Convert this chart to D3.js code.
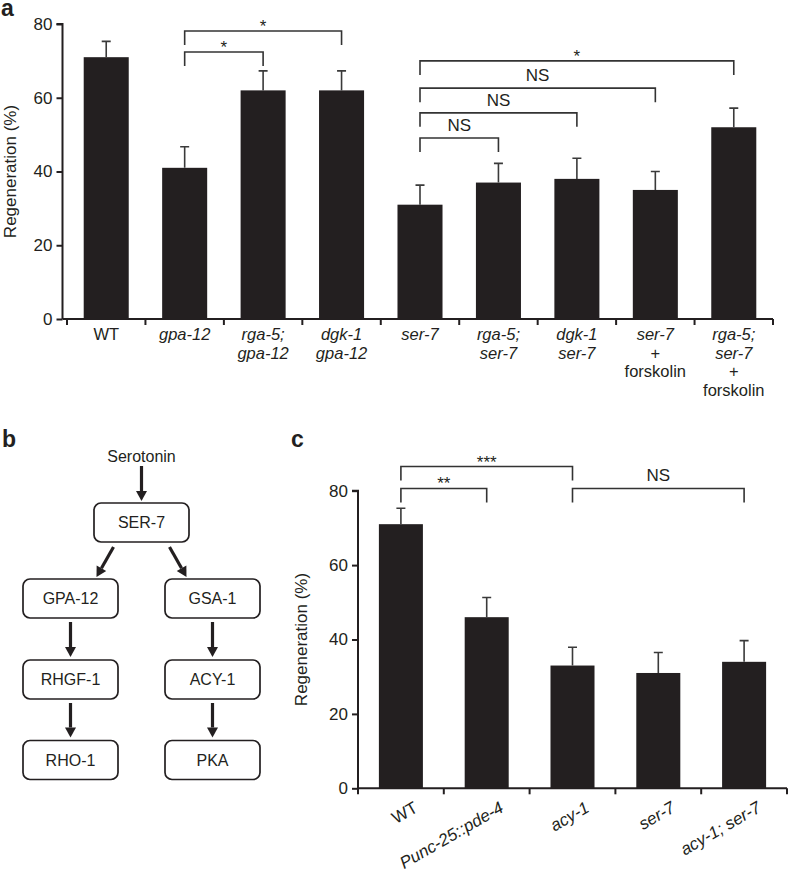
<!DOCTYPE html>
<html><head><meta charset="utf-8">
<script src="https://cdn.jsdelivr.net/npm/d3@7"></script>
<style>
body{margin:0;background:#fff}
svg{display:block}
text{font-family:"Liberation Sans",Arial,Helvetica,sans-serif;fill:#231f20}
</style>
</head><body>
<svg id="fig" width="788" height="873"></svg>
<script>
// ---------- DATA ----------
const categoriesA = ["WT","gpa-12","rga-5; gpa-12","dgk-1 gpa-12","ser-7","rga-5; ser-7","dgk-1 ser-7","ser-7 + forskolin","rga-5; ser-7 + forskolin"];
const labelLinesA = [["WT"],["gpa-12"],["rga-5;","gpa-12"],["dgk-1","gpa-12"],["ser-7"],["rga-5;","ser-7"],["dgk-1","ser-7"],["ser-7","+","forskolin"],["rga-5;","ser-7","+","forskolin"]];
const valuesA = [71,41,62,62,31,37,38,35,52];
const errorsA = [4.3,5.7,5.3,5.3,5.3,5.2,5.6,5.0,5.2];
const bracketFromA = [1,1,4,4,4,4];
const bracketToA   = [2,3,5,6,7,8];
const bracketLevelA = [72.4,78.1,49.1,55.9,62.6,70.0];
const bracketLabelA = ["*","*","NS","NS","NS","*"];

const categoriesC = ["WT","Punc-25::pde-4","acy-1","ser-7","acy-1; ser-7"];
const valuesC = [71,46,33,31,34];
const errorsC = [4.3,5.3,4.9,5.5,5.7];
const bracketFromC = [0,0,2];
const bracketToC   = [1,2,4];
const bracketLevelC = [80.6,86.5,80.6];
const bracketLabelC = ["**","***","NS"];

const yTicks = [0,20,40,60,80];
const yTitle = "Regeneration (%)";
const uprightLabels = ["WT","+","forskolin"];

const pathwayNodes = ["SER-7","GPA-12","GSA-1","RHGF-1","ACY-1","RHO-1","PKA"];
const pathwayCol = [1,0,2,0,2,0,2];
const pathwayRow = [0,1,1,2,2,3,3];
const pathwayEdges = [["SER-7","GPA-12"],["SER-7","GSA-1"],["GPA-12","RHGF-1"],["RHGF-1","RHO-1"],["GSA-1","ACY-1"],["ACY-1","PKA"]];
const pathwaySource = "Serotonin";

// ---------- DRAW ----------
const svg = d3.select("#fig");
const INK = "#231f20";

function panelLetter(t, x, y){
  svg.append("text").attr("x",x).attr("y",y).text(t)
    .style("font-size","23px").style("font-weight","bold");
}

function barPanel(opts){
  const {cats, vals, errs, bFrom, bTo, bLevel, bLabel, x0, x1, axisX, yTop, yBot, pad} = opts;
  const g = svg.append("g");
  const y = d3.scaleLinear().domain([0,80]).range([yBot,yTop]);
  const x = d3.scaleBand().domain(d3.range(cats.length)).range([x0,x1])
              .paddingInner(pad).paddingOuter(pad/2);
  // y axis
  const ya = g.append("g").attr("transform",`translate(${axisX},0)`)
    .call(d3.axisLeft(y).tickValues(yTicks).tickSize(6).tickPadding(4).tickFormat(d3.format("d")));
  ya.select(".domain").attr("stroke",INK).attr("stroke-width",2).attr("d",`M-6,${y(80)}H0V${y(0)}`);
  ya.selectAll(".tick line").attr("stroke",INK).attr("stroke-width",2);
  ya.selectAll(".tick text").style("font-size","17px").attr("fill",INK);
  // x axis
  g.append("path").attr("d",`M${axisX},${y(0)}H${x1}`).attr("stroke",INK).attr("stroke-width",2).attr("fill","none");
  const edges = d3.range(cats.length+1).map(i => i < cats.length ? x(i) - x.step()*pad/2 : x(i-1)+x.bandwidth()+x.step()*pad/2);
  g.selectAll("line.xt").data(edges).join("line")
    .attr("x1",d=>d).attr("x2",d=>d).attr("y1",y(0)).attr("y2",y(0)+6)
    .attr("stroke",INK).attr("stroke-width",2);
  // bars
  g.selectAll("rect.bar").data(vals).join("rect")
    .attr("x",(d,i)=>x(i)).attr("width",x.bandwidth())
    .attr("y",d=>y(d)).attr("height",d=>y(0)-y(d)).attr("fill",INK);
  // error bars
  const cx = i => x(i)+x.bandwidth()/2;
  g.selectAll("path.err").data(vals).join("path")
    .attr("d",(d,i)=>`M${cx(i)},${y(d)}V${y(d+errs[i])}M${cx(i)-4.5},${y(d+errs[i])}H${cx(i)+4.5}`)
    .attr("stroke","#3a3a3a").attr("stroke-width",1.6).attr("fill","none");
  // brackets
  const leg = 14;
  bFrom.forEach((f,k)=>{
    const xa = cx(f), xb = cx(bTo[k]), yy = y(bLevel[k]);
    g.append("path").attr("d",`M${xa},${yy+leg}V${yy}H${xb}V${yy+leg}`)
      .attr("stroke","#333").attr("stroke-width",1.6).attr("fill","none");
    const isStar = bLabel[k].startsWith("*");
    g.append("text").attr("x",(xa+xb)/2).attr("y", isStar ? yy+1 : yy-7)
      .attr("text-anchor","middle").style("font-size","17px").text(bLabel[k]);
  });
  // y title
  g.append("text").attr("transform",`translate(${opts.titleX},${(y(0)+y(80))/2}) rotate(-90)`)
    .attr("text-anchor","middle").style("font-size","17px").text(yTitle);
  return {x, y, cx, g};
}

// Panel a
panelLetter("a", 1, 16);
const A = barPanel({cats:categoriesA, vals:valuesA, errs:errorsA,
  bFrom:bracketFromA, bTo:bracketToA, bLevel:bracketLevelA, bLabel:bracketLabelA,
  x0:67, x1:773, axisX:62.5, yTop:24, yBot:319, pad:0.426, titleX:15.5});
labelLinesA.forEach((lines,i)=>{
  lines.forEach((t,j)=>{
    A.g.append("text").attr("x",A.cx(i)).attr("y",340 + j*18.5)
      .attr("text-anchor","middle").style("font-size","16.5px")
      .style("font-style", uprightLabels.includes(t) ? "normal" : "italic")
      .text(t);
  });
});

// Panel c
panelLetter("c", 291, 447);
const C = barPanel({cats:categoriesC, vals:valuesC, errs:errorsC,
  bFrom:bracketFromC, bTo:bracketToC, bLevel:bracketLevelC, bLabel:bracketLabelC,
  x0:358, x1:787, axisX:358, yTop:490.7, yBot:788.3, pad:0.487, titleX:307});
categoriesC.forEach((t,i)=>{
  C.g.append("text").attr("transform",`translate(${C.cx(i)+18},811) rotate(-30)`)
    .attr("text-anchor","end").style("font-size","17px")
    .style("font-style", uprightLabels.includes(t) ? "normal" : "italic")
    .text(t);
});

// Panel b
panelLetter("b", 2, 447);
const colX = d3.scaleLinear().domain([0,2]).range([70.5,212.5]);
const rowY = d3.scaleOrdinal().domain([0,1,2,3]).range([522.5,598.5,679.5,760]);
const BW = 95, BH = 39;
const nodePos = {};
pathwayNodes.forEach((n,i)=>{ nodePos[n] = {x:colX(pathwayCol[i]), y:rowY(pathwayRow[i])}; });
const gb = svg.append("g");
pathwayNodes.forEach(n=>{
  const p = nodePos[n];
  gb.append("rect").attr("x",p.x-BW/2).attr("y",p.y-BH/2).attr("width",BW).attr("height",BH)
    .attr("rx",7).attr("fill","#fff").attr("stroke",INK).attr("stroke-width",1.7);
  gb.append("text").attr("x",p.x).attr("y",p.y+5.8).attr("text-anchor","middle")
    .style("font-size","16px").text(n);
});
function arrow(xa,ya,xb,yb){
  const ang = Math.atan2(yb-ya, xb-xa), L = 10, W = 5.5;
  const bx = xb - L*Math.cos(ang), by = yb - L*Math.sin(ang);
  gb.append("path").attr("d",`M${xa},${ya}L${bx},${by}`).attr("stroke",INK).attr("stroke-width",3.2);
  const nx = -Math.sin(ang), ny = Math.cos(ang);
  gb.append("path").attr("d",`M${xb},${yb}L${bx+nx*W},${by+ny*W}L${bx-nx*W},${by-ny*W}Z`).attr("fill",INK);
}
const ser = nodePos["SER-7"];
gb.append("text").attr("x",ser.x).attr("y",462).attr("text-anchor","middle").style("font-size","16px").text(pathwaySource);
arrow(ser.x, 466, ser.x, ser.y-BH/2-2);
pathwayEdges.forEach(([s,t])=>{
  const a = nodePos[s], b = nodePos[t];
  if (a.x === b.x) {
    arrow(a.x, a.y+BH/2+4, b.x, b.y-BH/2-3);
  } else {
    const dir = Math.sign(b.x-a.x);
    arrow(a.x+dir*28, a.y+BH/2+5, b.x-dir*26, b.y-BH/2-2);
  }
});
</script>
</body></html>
